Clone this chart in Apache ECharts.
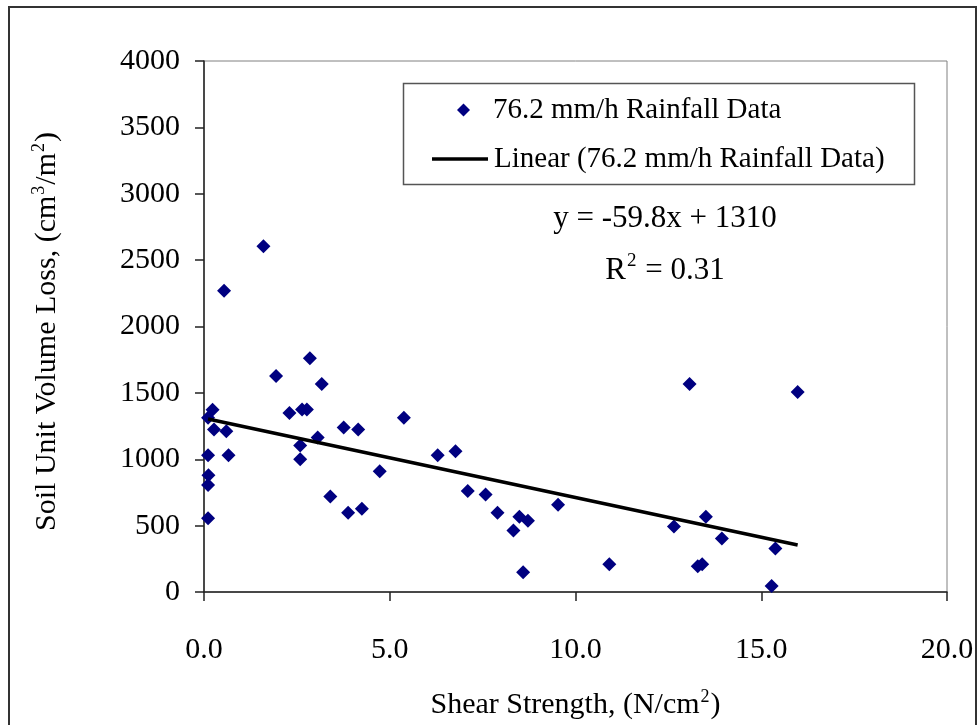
<!DOCTYPE html>
<html>
<head>
<meta charset="utf-8">
<script src="https://cdn.jsdelivr.net/npm/echarts@6/dist/echarts.min.js"></script>
<style>
  html, body { margin: 0; padding: 0; background: #fff; }
  #chart { width: 980px; height: 725px; }
</style>
</head>
<body>
<div id="chart"></div>
<script>
// ---- data ----
const seriesName = '76.2 mm/h Rainfall Data';
const trendName = 'Linear (76.2 mm/h Rainfall Data)';
const shearStrength = [1.60, 0.54, 2.85, 1.94, 3.17, 0.23, 2.30, 2.64, 2.77, 0.11, 5.38, 0.27, 0.60, 3.76, 4.15, 3.06, 2.59, 0.11, 0.66, 2.59, 6.29, 4.73, 0.12, 0.11, 3.40, 3.88, 4.25, 0.11, 6.77, 7.10, 7.58, 7.90, 8.49, 8.72, 8.33, 9.53, 8.59, 10.91, 13.07, 15.98, 12.65, 13.51, 13.94, 15.38, 13.29, 13.41, 15.28];
const volumeLoss    = [2605, 2270, 1760, 1627, 1567, 1373, 1348, 1375, 1375, 1313, 1313, 1224, 1210, 1240, 1224, 1164, 1104, 1030, 1030, 1000, 1030, 910, 880, 806, 720, 597, 627, 555, 1060, 761, 734, 597, 567, 537, 463, 657, 149, 209, 1567, 1507, 493, 567, 403, 328, 194, 209, 45];
const trendSlope = [-59.8];
const trendIntercept = [1310];
const rSquared = [0.31];
const xTicks = [0, 5, 10, 15, 20];
const yTicks = [0, 500, 1000, 1500, 2000, 2500, 3000, 3500, 4000];

// ---- build ----
const FONT = "'Liberation Serif', 'Times New Roman', serif";
const scatterData = shearStrength.map((x, i) => [x, volumeLoss[i]]);
const xMinData = Math.min(...shearStrength);
const xMaxData = Math.max(...shearStrength);
const trendData = [xMinData, xMaxData].map(x => [x, trendSlope[0] * x + trendIntercept[0]]);

const chart = echarts.init(document.getElementById('chart'), null, { renderer: 'canvas' });

const richTitle = (size) => ({
  n: { fontFamily: FONT, fontSize: size, color: '#000', lineHeight: size + 2, verticalAlign: 'bottom' },
  s: { fontFamily: FONT, fontSize: Math.round(size * 0.6), color: '#000', lineHeight: size + 2, verticalAlign: 'top', padding: [0, 1, 0, 1] }
});

const legendText = { fontFamily: FONT, fontSize: 29, color: '#000', lineHeight: 30 };

const option = {
  backgroundColor: '#ffffff',
  animation: false,
  textStyle: { fontFamily: FONT, color: '#000' },
  grid: {
    left: 204, right: 33, top: 61, bottom: 128,
    show: true, borderColor: '#808080', borderWidth: 1, backgroundColor: 'transparent'
  },
  xAxis: {
    type: 'value',
    min: xTicks[0], max: xTicks[xTicks.length - 1], interval: xTicks[1] - xTicks[0],
    name: '{n|Shear Strength, (N/cm}{s|2}{n|)}',
    nameLocation: 'middle',
    nameGap: 96,
    nameTextStyle: { fontFamily: FONT, color: '#000', rich: richTitle(30) },
    axisLine: { show: true, onZero: false, lineStyle: { color: '#222', width: 1.5 } },
    axisTick: { show: true, inside: false, length: 9, lineStyle: { color: '#222', width: 1.5 } },
    axisLabel: {
      fontFamily: FONT, fontSize: 30, color: '#000', margin: 43,
      formatter: v => v.toFixed(1)
    },
    splitLine: { show: false }
  },
  yAxis: {
    type: 'value',
    min: yTicks[0], max: yTicks[yTicks.length - 1], interval: yTicks[1] - yTicks[0],
    name: '{n|Soil Unit Volume Loss, (cm}{s|3}{n|/m}{s|2}{n|)}',
    nameLocation: 'middle',
    nameGap: 142,
    nameRotate: 90,
    nameTextStyle: { fontFamily: FONT, color: '#000', rich: richTitle(30), padding: [0, 10, 0, 0] },
    axisLine: { show: true, onZero: false, lineStyle: { color: '#222', width: 1.5 } },
    axisTick: { show: true, inside: false, length: 9, lineStyle: { color: '#222', width: 1.5 } },
    axisLabel: { fontFamily: FONT, fontSize: 30, color: '#000', margin: 24, formatter: v => String(v) },
    splitLine: { show: false }
  },
  legend: [
    {
      left: 457, top: 95,
      itemWidth: 13, itemHeight: 13,
      padding: 0,
      textStyle: Object.assign({}, legendText, { padding: [0, 0, 0, 18] }),
      data: [{ name: seriesName, icon: 'diamond', itemStyle: { color: '#000080' } }]
    },
    {
      left: 432, top: 144,
      itemWidth: 56, itemHeight: 3.5,
      padding: 0,
      textStyle: Object.assign({}, legendText, { padding: [0, 0, 0, 1] }),
      data: [{ name: trendName, icon: 'rect', itemStyle: { color: '#000' } }]
    }
  ],
  graphic: [
    {
      type: 'rect', z: 0, silent: true,
      shape: { x: 9, y: 7, width: 967, height: 740 },
      style: { fill: 'none', stroke: '#333', lineWidth: 2 }
    },
    {
      type: 'rect', z: 0, silent: true,
      shape: { x: 403.5, y: 83.5, width: 511, height: 101 },
      style: { fill: 'none', stroke: '#555', lineWidth: 1.5 }
    },
    {
      type: 'text', z: 10, silent: true,
      style: {
        x: 665, y: 219,
        text: 'y = ' + trendSlope[0].toFixed(1) + 'x + ' + trendIntercept[0],
        fontFamily: FONT, fontSize: 31, fill: '#000',
        align: 'center', verticalAlign: 'middle'
      }
    },
    {
      type: 'text', z: 10, silent: true,
      style: {
        x: 665, y: 269,
        text: '{n|R}{s|2}{n| = ' + rSquared[0].toFixed(2) + '}',
        fontFamily: FONT, fill: '#000',
        align: 'center', verticalAlign: 'middle',
        rich: {
          n: { fontFamily: FONT, fontSize: 31, fill: '#000', lineHeight: 34, verticalAlign: 'bottom' },
          s: { fontFamily: FONT, fontSize: 19, fill: '#000', lineHeight: 34, verticalAlign: 'top', padding: [0, 1, 0, 1] }
        }
      }
    }
  ],
  series: [
    {
      name: seriesName,
      type: 'scatter',
      symbol: 'diamond',
      symbolSize: 14,
      itemStyle: { color: '#000080', opacity: 1 },
      data: scatterData,
      z: 3
    },
    {
      name: trendName,
      type: 'line',
      showSymbol: false,
      symbol: 'none',
      lineStyle: { color: '#000', width: 3.5 },
      itemStyle: { color: '#000' },
      data: trendData,
      z: 4
    }
  ]
};

chart.setOption(option);
</script>
</body>
</html>
